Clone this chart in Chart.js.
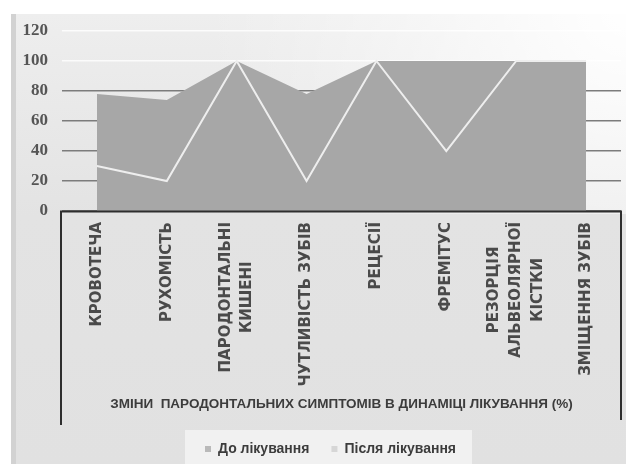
<!DOCTYPE html>
<html>
<head>
<meta charset="utf-8">
<script src="https://cdn.jsdelivr.net/npm/chart.js@4/dist/chart.umd.min.js"></script>
<style>
  html, body { margin: 0; padding: 0; background: #ffffff; }
  #wrap { width: 626px; height: 464px; }
</style>
</head>
<body>
<div id="wrap"><canvas id="c" width="626" height="464"></canvas></div>
<script>
// Periodontal symptoms, share of patients (%)
const categories = [
  'КРОВОТЕЧА',
  'РУХОМІСТЬ',
  ['ПАРОДОНТАЛЬНІ', 'КИШЕНІ'],
  'ЧУТЛИВІСТЬ ЗУБІВ',
  'РЕЦЕСІЇ',
  'ФРЕМІТУС',
  ['РЕЗОРЦІЯ', 'АЛЬВЕОЛЯРНОЇ', 'КІСТКИ'],
  'ЗМІЩЕННЯ ЗУБІВ'
];
const beforeTreatment = [78, 74, 100, 78, 100, 100, 100, 100];
const afterTreatment = [30, 20, 100, 20, 100, 40, 100, 100];
const yTickValues = [0, 20, 40, 60, 80, 100, 120];
const seriesNames = ['До лікування', 'Після лікування'];
const axisTitle = 'ЗМІНИ  ПАРОДОНТАЛЬНИХ СИМПТОМІВ В ДИНАМІЦІ ЛІКУВАННЯ (%)';

// Page background: grey panel with a light glow towards the top right
const backdrop = {
  id: 'backdrop',
  beforeDraw(chart) {
    const { ctx, width, height } = chart;
    ctx.save();
    ctx.fillStyle = '#ffffff';
    ctx.fillRect(0, 0, width, height);
    const g = ctx.createLinearGradient(0, 14, 0, height);
    g.addColorStop(0, '#eeeeee');
    g.addColorStop(0.45, '#e3e3e3');
    g.addColorStop(1, '#e1e1e1');
    ctx.fillStyle = g;
    ctx.fillRect(11, 14, width - 11, height - 14);
    const r = ctx.createRadialGradient(width, 14, 10, width, 14, 420);
    r.addColorStop(0, 'rgba(255,255,255,0.95)');
    r.addColorStop(0.5, 'rgba(255,255,255,0.45)');
    r.addColorStop(1, 'rgba(255,255,255,0)');
    ctx.fillStyle = r;
    ctx.fillRect(11, 14, width - 11, 200);
    ctx.fillStyle = '#d2d2d2';
    ctx.fillRect(11, 14, 5, height - 14);
    // lighter panel behind the legend
    const lg = chart.legend;
    if (lg && lg.legendHitBoxes && lg.legendHitBoxes.length) {
      const hb = lg.legendHitBoxes;
      const x0 = hb[0].left - 20;
      const last = hb[hb.length - 1];
      const x1 = last.left + last.width + 16;
      const cy = hb[0].top + hb[0].height / 2;
      ctx.fillStyle = 'rgba(245,245,245,0.75)';
      ctx.fillRect(x0, cy - 19, x1 - x0, 36);
    }
    ctx.restore();
  }
};

// Category labels centred on their ticks; legend nudged right of centre
const labelLayout = {
  id: 'labelLayout',
  afterLayout(chart) {
    const lg = chart.legend;
    if (lg) {
      const shift = 20;
      lg.left += shift * 2;
      (lg.legendHitBoxes || []).forEach(h => { h.left += shift; });
    }
  },
  afterUpdate(chart) {
    const sc = chart.scales.x;
    const ctx = chart.ctx;
    const items = sc.getLabelItems(chart.chartArea);
    items.forEach(it => {
      const lines = Array.isArray(it.label) ? it.label : [it.label];
      const lh = it.font.lineHeight;
      it.textOffset -= (lines.length - 1) * lh / 2;
      ctx.save();
      ctx.font = it.font.string;
      const w = Math.max(...lines.map(l => ctx.measureText(l).width));
      ctx.restore();
      it.options.textAlign = 'center';
      it.options.translation = [it.options.translation[0], it.options.translation[1] + w / 2];
    });
  }
};

// Frame around the category axis area
const axisFrame = {
  id: 'axisFrame',
  afterDraw(chart) {
    const { ctx } = chart;
    const x = chart.scales.x;
    const left = x.left - 1, right = x.right, top = x.top + 0.5;
    ctx.save();
    ctx.strokeStyle = '#2e2e2e';
    ctx.lineWidth = 2;
    ctx.beginPath();
    ctx.moveTo(left, 425);
    ctx.lineTo(left, top);
    ctx.lineTo(right, top);
    ctx.lineTo(right, 420);
    ctx.stroke();
    ctx.restore();
  }
};

// Legend swatches in the soft tones of the key
const swatchColors = ['#b9b9b9', '#d6d6d6'];

new Chart(document.getElementById('c'), {
  type: 'line',
  data: {
    labels: categories,
    datasets: [
      {
        label: seriesNames[0],
        data: beforeTreatment,
        order: 1,
        fill: 'origin',
        backgroundColor: '#a7a7a7',
        borderColor: '#a7a7a7',
        borderWidth: 0,
        pointRadius: 0,
        tension: 0
      },
      {
        label: seriesNames[1],
        data: afterTreatment,
        order: 0,
        fill: false,
        backgroundColor: '#f4f4f4',
        borderColor: '#eeeeee',
        borderWidth: 2,
        pointRadius: 0,
        tension: 0
      }
    ]
  },
  options: {
    responsive: false,
    devicePixelRatio: 1,
    animation: false,
    layout: { padding: { top: 31, right: 5, left: 0, bottom: 0 } },
    scales: {
      x: {
        offset: true,
        grid: { display: false, drawTicks: false },
        border: { display: false },
        ticks: {
          autoSkip: false,
          minRotation: 90,
          maxRotation: 90,
          padding: 11,
          color: '#4a4a4a',
          font: { family: '"DejaVu Sans", "Liberation Sans", sans-serif', size: 15, weight: 'bold', lineHeight: 1.45 }
        },
        title: {
          display: true,
          text: axisTitle,
          color: '#3c3c3c',
          font: { family: '"Liberation Sans Narrow", "Liberation Sans", sans-serif', size: 13.5, weight: 'bold' },
          padding: { top: 0, bottom: 8 }
        },
        afterFit(scale) { scale.height = 209; }
      },
      y: {
        min: 0,
        max: 120,
        afterBuildTicks(scale) { scale.ticks = yTickValues.map(v => ({ value: v })); },
        grid: {
          drawTicks: false,
          lineWidth: 1.5,
          color: c => (c.tick && c.tick.value > 80) ? 'rgba(255,255,255,0.8)' : '#7c7c7c'
        },
        border: { display: false },
        ticks: {
          padding: 14,
          color: '#555555',
          font: { family: '"Liberation Serif", "Times New Roman", serif', size: 17, weight: 'bold' }
        },
        afterFit(scale) { scale.width = 62; }
      }
    },
    plugins: {
      legend: {
        position: 'bottom',
        maxHeight: 44,
        labels: {
          boxWidth: 6,
          boxHeight: 6,
          padding: 22,
          color: '#3c3c3c',
          sort: (a, b) => a.datasetIndex - b.datasetIndex,
          generateLabels(chart) {
            const items = Chart.defaults.plugins.legend.labels.generateLabels(chart);
            items.forEach(it => {
              it.fillStyle = swatchColors[it.datasetIndex];
              it.strokeStyle = swatchColors[it.datasetIndex];
              it.lineWidth = 0;
            });
            return items;
          },
          font: { family: '"Liberation Sans Narrow", "Liberation Sans", sans-serif', size: 14, weight: 'bold' }
        }
      },
      tooltip: { enabled: false }
    }
  },
  plugins: [backdrop, labelLayout, axisFrame]
});
</script>
</body>
</html>
